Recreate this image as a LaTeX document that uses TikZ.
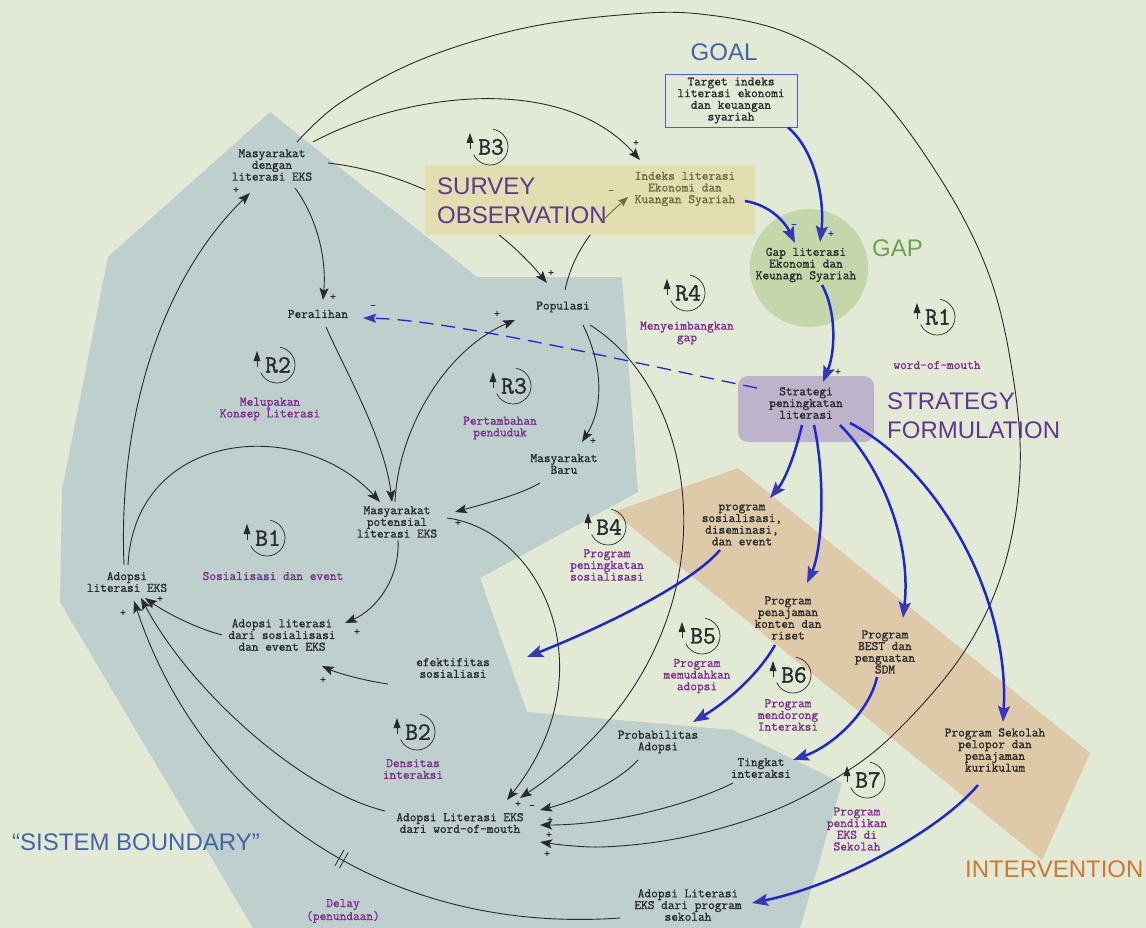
\documentclass[tikz,border=0pt]{standalone}
\usepackage{fontspec}
\newfontfamily\sansfam{Liberation Sans}
\newfontfamily\cldmono[FakeBold=1.2]{Latin Modern Mono}
\usetikzlibrary{arrows.meta,calc,decorations.markings}

\definecolor{bg}{RGB}{226,234,214}
\definecolor{bound}{RGB}{190,207,206}
\definecolor{band}{RGB}{222,201,168}
\definecolor{gapfill}{RGB}{196,215,171}
\definecolor{stratfill}{RGB}{189,179,202}
\definecolor{survfill}{RGB}{226,222,176}
\definecolor{ink}{RGB}{40,42,46}
\definecolor{olive}{RGB}{110,105,72}
\definecolor{loopc}{RGB}{125,45,140}
\definecolor{survtxt}{RGB}{95,55,145}
\definecolor{goalc}{RGB}{65,100,170}
\definecolor{gaptxt}{RGB}{110,160,80}
\definecolor{intc}{RGB}{208,120,50}
\definecolor{blueL}{RGB}{30,40,210}
\definecolor{blueTip}{RGB}{55,55,185}
\definecolor{tgtb}{RGB}{70,90,220}

\newcommand\cldtext{\cldmono\fontsize{13}{11.7}\selectfont}
\newcommand\cldloop{\cldmono\fontsize{25}{25}\selectfont}
\newcommand\cldbig{\sansfam\fontsize{24}{24}\selectfont}
\newcommand\cldsign{\cldmono\fontsize{11}{11}\selectfont}

\pgfdeclarelayer{back}
\pgfdeclarelayer{under}
\pgfdeclarelayer{boxes}
\pgfsetlayers{back,under,boxes,main}

\begin{document}
\begin{tikzpicture}[x=1pt,y=-1pt,
  var/.style={font=\cldtext, text=ink, align=center, inner sep=1pt},
  lab/.style={font=\cldtext, text=loopc, align=center, inner sep=1pt},
  sgn/.style={font=\cldsign, text=ink, inner sep=0pt},
  big/.style={font=\cldbig, inner sep=0pt, anchor=base west},
  arr/.style={draw=ink, line width=0.9pt, -{Stealth[length=12pt,width=9pt,inset=2.5pt]}},
  barr/.style={draw=blueL, line width=2.5pt, -{Stealth[length=16pt,width=12pt,inset=3pt,color=blueTip]}},
  pics/loopmark/.style={code={
    \draw[ink, line width=0.7pt] (-80:18) arc[start angle=-80, end angle=155, radius=18];
    \fill[ink] (-20,-14) -- (-23.5,-4) -- (-16.5,-4) -- cycle;
    \draw[ink, line width=0.9pt] (-20,-5) -- (-20,2);
    \node[font=\cldloop, text=ink, inner sep=0pt] (-t) at (1,0) {#1};
  }}]

\useasboundingbox (0,0) rectangle (1146,928);

% ---------- background areas ----------
\begin{pgfonlayer}{back}
  \fill[bg] (0,0) rectangle (1146,928);
  \fill[bound] (270,112) -- (477,277) -- (622,277) -- (638,492) -- (480,578)
    -- (527,712) -- (733,730) -- (842,783) -- (800,928) -- (253,928)
    -- (60,602) -- (62,490) -- (108,257) -- cycle;
  \fill[band] (738,468) -- (1090,753) -- (1042,860) -- (613,512) -- cycle;
  \fill[gapfill] (809,268) circle[radius=59];
  \fill[stratfill, rounded corners=10pt] (738,376) rectangle (874,442);
\end{pgfonlayer}
\begin{pgfonlayer}{boxes}
  \fill[survfill] (425,165) rectangle (755,235);
\end{pgfonlayer}

% ---------- variables ----------
\node[var] (md)   at (272,165) {Masyarakat\\dengan\\literasi EKS};
\node[var] (per)  at (318,314) {Peralihan};
\node[var] (pop)  at (563,307) {Populasi};
\node[var] (baru) at (564,464) {Masyarakat\\Baru};
\node[var] (pot)  at (397,522) {Masyarakat\\potensial\\literasi EKS};
\node[var] (aeks) at (127,582) {Adopsi\\literasi EKS};
\node[var] (asos) at (282,635) {Adopsi literasi\\dari sosialisasi\\dan event EKS};
\node[var] (efek) at (453,668) {efektifitas\\sosialiasi};
\node[var] (prob) at (658,742) {Probabilitas\\Adopsi};
\node[var] (ting) at (761,768) {Tingkat\\interaksi};
\node[var] (wom)  at (460,823) {Adopsi Literasi EKS\\dari word-of-mouth};
\node[var] (asek) at (688,905) {Adopsi Literasi\\EKS dari program\\sekolah};
\node[var, text=olive] (ind) at (685,189) {Indeks literasi\\Ekonomi dan\\Kuangan Syariah};
\node[var, draw=tgtb, line width=0.9pt, minimum width=132, minimum height=53, inner sep=0pt]
  (tgt) at (731,100.5) {Target indeks\\literasi ekonomi\\dan keuangan\\syariah};
\node[var] (gap)   at (806,265) {Gap literasi\\Ekonomi dan\\Keunagn Syariah};
\node[var] (strat) at (806,403) {Strategi\\peningkatan\\literasi};
\node[var] (psos)  at (742,525) {program\\sosialisasi,\\diseminasi,\\dan event};
\node[var] (ppen)  at (788,618) {Program\\penajaman\\konten dan\\riset};
\node[var] (pbest) at (885,652) {Program\\BEST dan\\penguatan\\SDM};
\node[var] (psek)  at (995,750) {Program Sekolah\\pelopor dan\\penajaman\\kurikulum};

% ---------- loop markers and their names ----------
\pic (b3) at (490,147) {loopmark=B3};
\pic (r4) at (687,293) {loopmark=R4};
\pic (r1) at (937,317) {loopmark=R1};
\pic (r2) at (277,365) {loopmark=R2};
\pic (r3) at (513,386) {loopmark=R3};
\pic (b1) at (267,538) {loopmark=B1};
\pic (b4) at (608,527) {loopmark=B4};
\pic (b5) at (702,636) {loopmark=B5};
\pic (b6) at (793,675) {loopmark=B6};
\pic (b7) at (867,780) {loopmark=B7};
\pic (b2) at (417,732) {loopmark=B2};

\node[lab] (lr4) at (687,333) {Menyeimbangkan\\gap};
\node[lab] (lr1) at (937,365) {word-of-mouth};
\node[lab] (lr2) at (270,409) {Melupakan\\Konsep Literasi};
\node[lab] (lr3) at (500,428) {Pertambahan\\penduduk};
\node[lab] (lb1) at (273,576) {Sosialisasi dan event};
\node[lab] (lb4) at (607,565) {Program\\peningkatan\\sosialisasi};
\node[lab] (lb5) at (697,676) {Program\\memudahkan\\adopsi};
\node[lab] (lb6) at (788,715) {Program\\mendorong\\Interaksi};
\node[lab] (lb7) at (857,829) {Program\\pendiikan\\EKS di\\Sekolah};
\node[lab] (lb2) at (413,769) {Densitas\\interaksi};
\node[lab] (ldl) at (343,911) {Delay\\(penundaan)};

% ---------- section headings ----------
\node[big, text=goalc, anchor=base] (hgoal) at (724,61) {GOAL};
\node[big, text=survtxt] (hsv1) at (437,195) {SURVEY};
\node[big, text=survtxt] (hsv2) at (437,224) {OBSERVATION};
\node[big, text=gaptxt] (hgap) at (872,257) {GAP};
\node[big, text=survtxt] (hst1) at (887,409) {STRATEGY};
\node[big, text=survtxt] (hst2) at (887,438) {FORMULATION};
\node[big, text=intc] (hint) at (965,877) {INTERVENTION};
\node[big, text=goalc] (hsb) at (12,850) {“SISTEM BOUNDARY”};

% ---------- links passing behind the survey box ----------
\begin{pgfonlayer}{under}
  \draw[arr] ($(md)+(56,-2)$) .. controls (430,175) and (505,232) .. ($(pop)+(-16,-24)$);
  \draw[arr] ($(pop)+(2,-17)$) .. controls (575,245) and (600,222) .. ($(ind)+(-57,8)$);
\end{pgfonlayer}
\begin{scope}
  \clip (600,186) rectangle (640,222);
  \draw[arr, draw=olive, -{Stealth[length=10pt,width=8pt,inset=2pt,color=olive]}]
    ($(pop)+(2,-17)$) .. controls (575,245) and (600,222) .. ($(ind)+(-57,8)$);
\end{scope}

% ---------- causal links ----------
\draw[arr] ($(md)+(23,23)$) .. controls (315,215) and (327,255) .. ($(per)+(5,-14)$);
\draw[arr] plot[smooth, tension=0.6] coordinates {($(md)+(25,-23)$) (340,103) (420,60)
  (520,29) (620,15) (700,14) (790,34) (870,86) (940,178) (988,272) (1012,370)
  (1020,470) (1003,570) (962,655) (893,735) (833,780) (765,814) (680,838) (600,847)
  ($(wom)+(80,19)$)};
\draw[arr] ($(md)+(41,-23)$) .. controls (400,95) and (560,70) .. ($(ind)+(-45,-29)$);
\draw[arr] ($(per)+(8,13)$) .. controls (345,370) and (385,440) .. ($(pot)+(-5,-20)$);
\draw[arr] ($(pot)+(-2,-20)$) .. controls (398,430) and (445,350) .. ($(pop)+(-48,13)$);
\draw[arr] ($(aeks)+(1,-17)$) .. controls (135,430) and (300,415) .. ($(pot)+(-17,-20)$);
\draw[arr] ($(baru)+(-24,19)$) .. controls (520,495) and (480,505) .. ($(pot)+(58,-10)$);
\draw[arr] ($(pot)+(50,-4)$) .. controls (540,530) and (610,670) .. ($(wom)+(47,-23)$);
\draw[arr] ($(pop)+(20,18)$) .. controls (605,370) and (602,410) .. ($(baru)+(18,-22)$);
\draw[arr] ($(pop)+(27,18)$) .. controls (710,400) and (740,650) .. ($(wom)+(60,-25)$);
\draw[arr] ($(pot)+(1,18)$) .. controls (400,580) and (375,610) .. ($(asos)+(63,-12)$);
\draw[arr] ($(asos)+(-60,0)$) .. controls (195,628) and (165,612) .. ($(aeks)+(18,16)$);
\draw[arr] ($(efek)+(-65,16)$) .. controls (360,680) and (335,672) .. ($(asos)+(40,31)$);
\draw[arr] ($(aeks)+(-3,-17)$) .. controls (118,420) and (160,280) .. ($(md)+(-22,28)$);
\draw[arr] ($(wom)+(-75,-12)$) .. controls (300,790) and (190,690) .. ($(aeks)+(14,16)$);
\draw[arr, postaction={decorate}, decoration={markings, mark=at position 0.46 with
    {\draw[-, ink, line width=0.8pt] (-2.5,-9) -- (-2.5,9) (2.5,-9) -- (2.5,9);}}]
  ($(asek)+(-68,13)$) .. controls (380,935) and (200,800) .. ($(aeks)+(7,19)$);
\draw[arr] ($(prob)+(-20,18)$) .. controls (620,780) and (580,800) .. ($(wom)+(80,-13)$);
\draw[arr] ($(ting)+(-28,15)$) .. controls (700,800) and (620,825) .. ($(wom)+(80,2)$);

% ---------- policy links ----------
\draw[barr] ($(tgt)+(57,27)$) .. controls (815,150) and (825,200) .. ($(gap)+(14,-23)$);
\draw[barr] ($(ind)+(60,12)$) .. controls (770,205) and (785,222) .. ($(gap)+(-11,-22)$);
\draw[barr] ($(gap)+(16,20)$) .. controls (836,310) and (836,350) .. ($(strat)+(17,-21)$);
\draw[blueL, line width=1.3pt, dash pattern=on 14pt off 8pt,
      -{Stealth[length=13pt,width=9pt,inset=2pt,color=blueTip]}]
  ($(strat)+(-49,-15)$) .. controls (620,360) and (450,320) .. ($(per)+(45,4)$);
\draw[barr] ($(strat)+(-4,22)$) .. controls (795,455) and (785,480) .. ($(psos)+(28,-27)$);
\draw[barr] ($(strat)+(8,22)$) .. controls (826,480) and (822,550) .. ($(ppen)+(19,-35)$);
\draw[barr] ($(strat)+(34,22)$) .. controls (880,465) and (912,540) .. ($(pbest)+(18,-34)$);
\draw[barr] ($(strat)+(44,20)$) .. controls (940,470) and (1010,600) .. ($(psek)+(8,-28)$);
\draw[barr] ($(psos)+(-22,25)$) .. controls (690,585) and (600,628) .. ($(efek)+(74,-11)$);
\draw[barr] ($(ppen)+(-13,27)$) .. controls (760,672) and (730,700) .. ($(prob)+(35,-20)$);
\draw[barr] ($(pbest)+(-8,25)$) .. controls (870,710) and (835,745) .. ($(ting)+(32,-8)$);
\draw[barr] ($(psek)+(-17,35)$) .. controls (940,830) and (840,885) .. ($(asek)+(64,-2)$);

% ---------- link polarities ----------
\node[sgn] (sg1)  at (333,297) {+};
\node[sgn] (sg2)  at (236,190) {+};
\node[sgn] (sg3)  at (636,143) {+};
\node[sgn] (sg4)  at (551,273) {+};
\node[sgn, text=olive] (sg5) at (611,192) {-};
\node[sgn, text=blueL] (sg6) at (373,307) {-};
\node[sgn] (sg7)  at (497,314) {+};
\node[sgn] (sg8)  at (593,441) {+};
\node[sgn] (sg9)  at (370,497) {-};
\node[sgn] (sg10) at (458,523) {+};
\node[sgn] (sg11) at (357,632) {+};
\node[sgn] (sg12) at (160,599) {+};
\node[sgn] (sg13) at (323,680) {+};
\node[sgn] (sg14) at (123,613) {+};
\node[sgn] (sg15) at (518,804) {+};
\node[sgn] (sg16) at (532,807) {-};
\node[sgn] (sg17) at (550,820) {+};
\node[sgn] (sg18) at (549,835) {+};
\node[sgn] (sg19) at (547,854) {+};
\node[sgn, text=blueL] (sg20) at (831,234) {+};
\node[sgn, text=blueL] (sg21) at (794,226) {-};
\node[sgn, text=blueL] (sg22) at (838,372) {+};
\end{tikzpicture}
\end{document}
